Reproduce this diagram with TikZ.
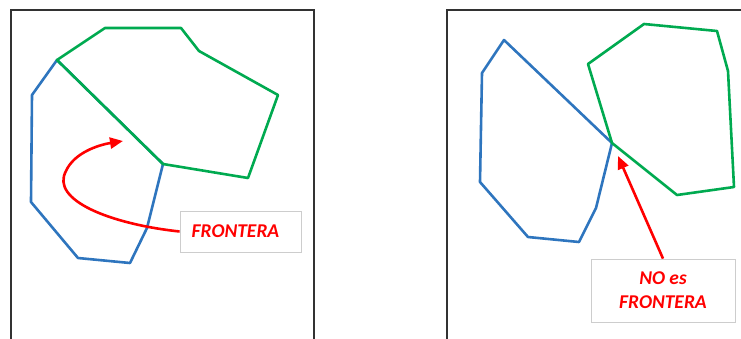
\documentclass[tikz,border=0pt]{standalone}
\usepackage{fontspec}
\setmainfont{Carlito}
\usetikzlibrary{arrows.meta}
\definecolor{pblue}{RGB}{46,117,190}
\definecolor{pgreen}{RGB}{0,170,80}
\definecolor{pred}{RGB}{255,0,0}
\definecolor{pframe}{RGB}{50,50,50}
\definecolor{pbox}{RGB}{205,205,205}
\tikzset{
  framebox/.style={draw=pframe,line width=1.6pt},
  bluepoly/.style={draw=pblue,line width=2.6pt,line join=round},
  greenpoly/.style={draw=pgreen,line width=2.6pt,line join=round},
  labelbox/.style={draw=pbox,line width=0.8pt,fill=white,inner sep=0pt,font=\fontsize{19.5}{24}\selectfont\bfseries\itshape,text=pred,align=center},
  redarrow/.style={draw=pred,line width=2.6pt,-{Triangle[length=13pt,width=11pt]}}
}
\begin{document}
\begin{tikzpicture}[x=1pt,y=-1pt]
\useasboundingbox (0,0) rectangle (741,338);
\clip (0,0) rectangle (741,338);
% frames
\draw[framebox] (11,345) -- (11,10) -- (314,10) -- (314,345);
\draw[framebox] (447,345) -- (447,10) -- (750,10);
% left figure
\draw[bluepoly] (57,60) -- (32,95) -- (31,202) -- (78,258) -- (130,263) -- (147,228) -- (163,164) -- cycle;
\draw[greenpoly] (57,60) -- (105,28) -- (181,28) -- (199,51) -- (278,95) -- (248,178) -- (163,164) -- cycle;
% right figure
\draw[bluepoly] (504,40) -- (482,73) -- (480,182) -- (528,237) -- (579,242) -- (596,208) -- (612,143) -- cycle;
\draw[greenpoly] (588,64) -- (644,24) -- (717,31) -- (728,71) -- (734,187) -- (677,195) -- (612,143) -- cycle;
% labels
\node[labelbox,minimum width=121pt,minimum height=41pt] (lf) at (240.5,231.5) {\hspace*{-10pt}FRONTERA};
\node[labelbox,minimum width=144pt,minimum height=63pt] (nf) at (663,290.5) {NO es\\FRONTERA};
\coordinate (lt) at (123,141);
\coordinate (rt) at (618,156);
\draw[redarrow] (lf.west) .. controls (110,224) and (50,200) .. (66,171) .. controls (74,153) and (98,145) .. (lt);
\draw[redarrow] (nf.north) -- (rt);
\end{tikzpicture}
\end{document}
